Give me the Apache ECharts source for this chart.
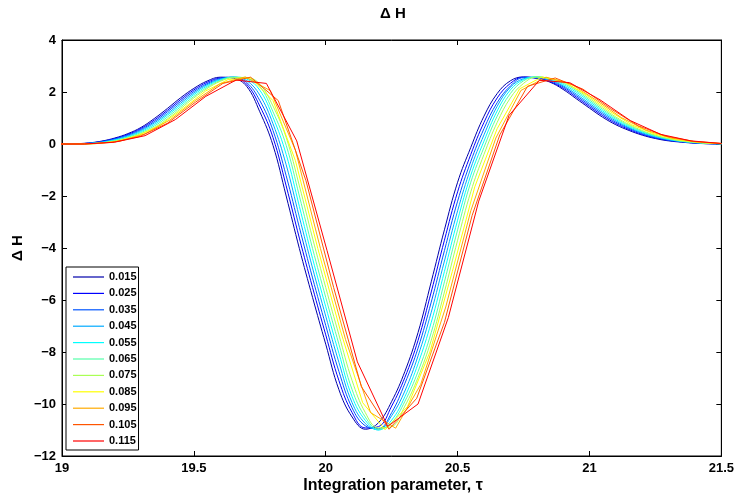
<!DOCTYPE html>
<html>
<head>
<meta charset="utf-8">
<script src="https://cdn.jsdelivr.net/npm/echarts@6/dist/echarts.min.js"></script>
<style>html,body{margin:0;padding:0;background:#fff}#c{width:737px;height:495px}</style>
</head>
<body>
<div id="c"></div>
<script>
// step sizes (legend labels)
const STEPS = ['0.015','0.025','0.035','0.045','0.055','0.065','0.075','0.085','0.095','0.105','0.115'];
const COLORS = ['#0000AA','#0000FF','#0055FF','#00AAFF','#00FFFF','#55FFAA','#AAFF55','#FFFF00','#FFAA00','#FF5500','#FF0000'];
const X_TICKS = [19, 19.5, 20, 20.5, 21, 21.5];
const Y_TICKS = [4, 2, 0, -2, -4, -6, -8, -10, -12];

// common tau grid for the finely sampled runs
const TAU = [19.00,19.05,19.10,19.15,19.20,19.25,19.30,19.35,19.40,19.45,19.50,19.55,19.60,19.65,19.70,19.75,19.80,19.85,19.90,19.95,20.00,20.05,20.10,20.15,20.20,20.25,20.30,20.35,20.40,20.45,20.50,20.55,20.60,20.65,20.70,20.75,20.80,20.85,20.90,20.95,21.00,21.05,21.10,21.15,21.20,21.25,21.30,21.35,21.40,21.45,21.50];
const DH_015 = [0.00,0.01,0.04,0.11,0.23,0.40,0.64,0.98,1.37,1.78,2.14,2.42,2.57,2.53,2.22,1.24,-0.05,-2.00,-4.02,-5.90,-7.70,-9.45,-10.50,-10.97,-10.72,-9.90,-8.75,-7.25,-5.30,-3.30,-1.47,-0.13,1.07,1.94,2.43,2.58,2.52,2.38,2.10,1.74,1.38,1.03,0.74,0.52,0.34,0.21,0.12,0.07,0.03,0.01,0.00];
const DH_025 = [0.00,0.01,0.03,0.10,0.21,0.37,0.60,0.92,1.30,1.71,2.08,2.37,2.54,2.56,2.30,1.46,0.25,-1.61,-3.62,-5.52,-7.34,-9.10,-10.33,-10.92,-10.87,-10.08,-8.98,-7.55,-5.69,-3.70,-1.84,-0.40,0.83,1.77,2.33,2.57,2.54,2.40,2.15,1.80,1.44,1.09,0.79,0.56,0.37,0.23,0.14,0.08,0.04,0.01,0.00];
const DH_035 = [0.00,0.01,0.03,0.09,0.19,0.34,0.56,0.86,1.24,1.64,2.02,2.32,2.52,2.57,2.37,1.67,0.52,-1.22,-3.21,-5.15,-6.98,-8.75,-10.15,-10.84,-10.95,-10.33,-9.21,-7.85,-6.08,-4.10,-2.20,-0.67,0.59,1.59,2.23,2.55,2.55,2.43,2.20,1.86,1.50,1.15,0.84,0.60,0.40,0.25,0.15,0.09,0.04,0.02,0.00];
const DH_045 = [0.00,0.00,0.02,0.07,0.17,0.31,0.52,0.81,1.17,1.57,1.96,2.28,2.49,2.57,2.44,1.88,0.78,-0.80,-2.81,-4.77,-6.62,-8.40,-9.95,-10.75,-10.99,-10.45,-9.50,-8.15,-6.47,-4.50,-2.57,-0.93,0.35,1.45,2.18,2.51,2.57,2.46,2.24,1.92,1.56,1.21,0.89,0.63,0.43,0.28,0.17,0.10,0.05,0.02,0.01];
const DH_055 = [0.00,0.00,0.02,0.06,0.15,0.28,0.48,0.75,1.11,1.50,1.90,2.23,2.47,2.57,2.50,2.07,1.03,-0.40,-2.40,-4.40,-6.26,-8.05,-9.72,-10.63,-11.00,-10.62,-9.72,-8.45,-6.86,-4.90,-2.93,-1.20,0.11,1.27,2.08,2.48,2.58,2.49,2.29,1.99,1.63,1.27,0.94,0.67,0.46,0.30,0.18,0.10,0.06,0.02,0.01];
const DH_065 = [0.00,0.00,0.01,0.05,0.13,0.26,0.44,0.69,1.04,1.43,1.83,2.18,2.44,2.57,2.53,2.22,1.24,-0.05,-2.00,-4.02,-5.90,-7.70,-9.45,-10.50,-10.97,-10.72,-9.90,-8.75,-7.25,-5.30,-3.30,-1.47,-0.13,1.07,1.94,2.43,2.58,2.51,2.34,2.05,1.69,1.33,0.99,0.71,0.49,0.32,0.20,0.11,0.06,0.03,0.01];
const DH_075 = [0.00,0.00,0.01,0.04,0.11,0.23,0.40,0.63,0.97,1.36,1.77,2.13,2.41,2.55,2.56,2.30,1.46,0.25,-1.61,-3.62,-5.52,-7.34,-9.10,-10.33,-10.92,-10.87,-10.08,-8.98,-7.55,-5.69,-3.70,-1.84,-0.40,0.83,1.77,2.33,2.58,2.52,2.38,2.10,1.75,1.39,1.04,0.75,0.52,0.34,0.21,0.12,0.07,0.03,0.01];

// coarse runs on their own tau grids
const TAU_085 = [18.95,19.035,19.12,19.205,19.29,19.375,19.46,19.545,19.63,19.715,19.8,19.885,19.97,20.055,20.14,20.225,20.31,20.395,20.48,20.565,20.65,20.735,20.82,20.905,20.99,21.075,21.16,21.245,21.33,21.415,21.5];
const DH_085 = [0,0,0.01,0.10,0.33,0.74,1.37,2.04,2.48,2.54,1.67,-0.64,-4.02,-7.16,-9.95,-10.99,-10.10,-8.00,-4.90,-1.65,0.59,2.12,2.58,2.39,1.88,1.27,0.74,0.39,0.17,0.06,0.01];
const TAU_095 = [18.935,19.03,19.125,19.22,19.315,19.41,19.505,19.6,19.695,19.79,19.885,19.98,20.075,20.17,20.265,20.36,20.455,20.55,20.645,20.74,20.835,20.93,21.025,21.12,21.215,21.31,21.405,21.5];
const DH_095 = [0,0,0.01,0.11,0.39,0.93,1.67,2.32,2.58,2.05,-0.24,-4.02,-7.52,-10.33,-10.93,-9.25,-6.27,-2.57,0.23,2.06,2.57,2.31,1.69,1.02,0.53,0.23,0.08,0.02];
const TAU_105 = [18.98,19.085,19.19,19.295,19.4,19.505,19.61,19.715,19.82,19.925,20.03,20.135,20.24,20.345,20.45,20.555,20.66,20.765,20.87,20.975,21.08,21.185,21.29,21.395,21.5];
const DH_105 = [0,0,0.06,0.29,0.80,1.60,2.33,2.57,1.67,-1.41,-5.52,-9.33,-10.97,-9.78,-6.86,-2.75,0.35,2.22,2.54,2.11,1.36,0.70,0.30,0.10,0.02];
const TAU_115 = [18.97,19.085,19.2,19.315,19.43,19.545,19.66,19.775,19.89,20.005,20.12,20.235,20.35,20.465,20.58,20.695,20.81,20.925,21.04,21.155,21.27,21.385,21.5];
const DH_115 = [0,0,0.07,0.32,0.94,1.83,2.46,2.33,0.12,-4.10,-8.38,-10.86,-10.00,-6.67,-2.20,1.10,2.45,2.36,1.70,0.90,0.37,0.12,0.02];

const RUNS = [
  [TAU, DH_015, 0.4], [TAU, DH_025, 0.4], [TAU, DH_035, 0.4], [TAU, DH_045, 0.4],
  [TAU, DH_055, 0.4], [TAU, DH_065, 0.4], [TAU, DH_075, 0.4],
  [TAU_085, DH_085, false], [TAU_095, DH_095, false], [TAU_105, DH_105, false], [TAU_115, DH_115, false]
];

const FONT = '"Liberation Sans", Arial, Helvetica, sans-serif';
const fmt = v => String(v).replace('-', '\u2212');

const chart = echarts.init(document.getElementById('c'), null, {renderer: 'canvas'});
const L = 62, R = 724, T = 40, B = 456;

const series = RUNS.map((r, i) => ({
  name: STEPS[i],
  type: 'line',
  xAxisIndex: 0, yAxisIndex: 0,
  data: r[0].map((x, j) => [x, r[1][j]]),
  symbol: 'none',
  showSymbol: false,
  smooth: r[2],
  clip: true,
  color: COLORS[i],
  itemStyle: {color: COLORS[i]},
  lineStyle: {width: 1, color: COLORS[i]},
  animation: false,
  z: 2 + i
}));

const axisCommon = {
  axisLine: {show: true, onZero: false, lineStyle: {color: '#000', width: 1}},
  axisTick: {show: true, inside: true, length: 5, lineStyle: {color: '#000', width: 1}},
  splitLine: {show: false}
};

chart.setOption({
  animation: false,
  backgroundColor: '#fff',
  grid: {left: L, right: 737 - R, top: T, bottom: 495 - B, show: true, borderColor: '#000', borderWidth: 1, containLabel: false},
  xAxis: [
    Object.assign({type: 'value', min: X_TICKS[0], max: X_TICKS[X_TICKS.length - 1], interval: 0.5, position: 'bottom',
      axisLabel: {color: '#000', fontFamily: FONT, fontWeight: 'bold', fontSize: 13, margin: 6, formatter: v => fmt(v)}}, axisCommon),
    Object.assign({type: 'value', min: X_TICKS[0], max: X_TICKS[X_TICKS.length - 1], interval: 0.5, position: 'top',
      axisLabel: {show: false}}, axisCommon)
  ],
  yAxis: [
    Object.assign({type: 'value', min: Y_TICKS[Y_TICKS.length - 1], max: Y_TICKS[0], interval: 2, position: 'left',
      axisLabel: {color: '#000', fontFamily: FONT, fontWeight: 'bold', fontSize: 13, margin: 6, formatter: v => fmt(v)}}, axisCommon),
    Object.assign({type: 'value', min: Y_TICKS[Y_TICKS.length - 1], max: Y_TICKS[0], interval: 2, position: 'right',
      axisLabel: {show: false}}, axisCommon)
  ],
  legend: {
    data: STEPS,
    orient: 'vertical',
    left: 66, top: 267,
    icon: 'rect',
    itemWidth: 31, itemHeight: 1.2, itemGap: 4.4,
    padding: [4, 2, 3, 7],
    borderColor: '#000', borderWidth: 1, backgroundColor: '#fff',
    selectedMode: false,
    textStyle: {color: '#000', fontFamily: FONT, fontWeight: 'bold', fontSize: 11, lineHeight: 12}
  },
  graphic: [
    {type: 'text', x: (L + R) / 2, y: 14, style: {text: '\u0394 H', font: 'bold 15px ' + FONT, fill: '#000', textAlign: 'center', textVerticalAlign: 'middle'}},
    {type: 'text', x: (L + R) / 2, y: 486, style: {text: 'Integration parameter, \u03C4', font: 'bold 16px ' + FONT, fill: '#000', textAlign: 'center', textVerticalAlign: 'middle'}},
    {type: 'text', x: 18, y: (T + B) / 2, rotation: Math.PI / 2, style: {text: '\u0394 H', font: 'bold 15px ' + FONT, fill: '#000', textAlign: 'center', textVerticalAlign: 'middle'}}
  ],
  series: series
});
</script>
</body>
</html>
